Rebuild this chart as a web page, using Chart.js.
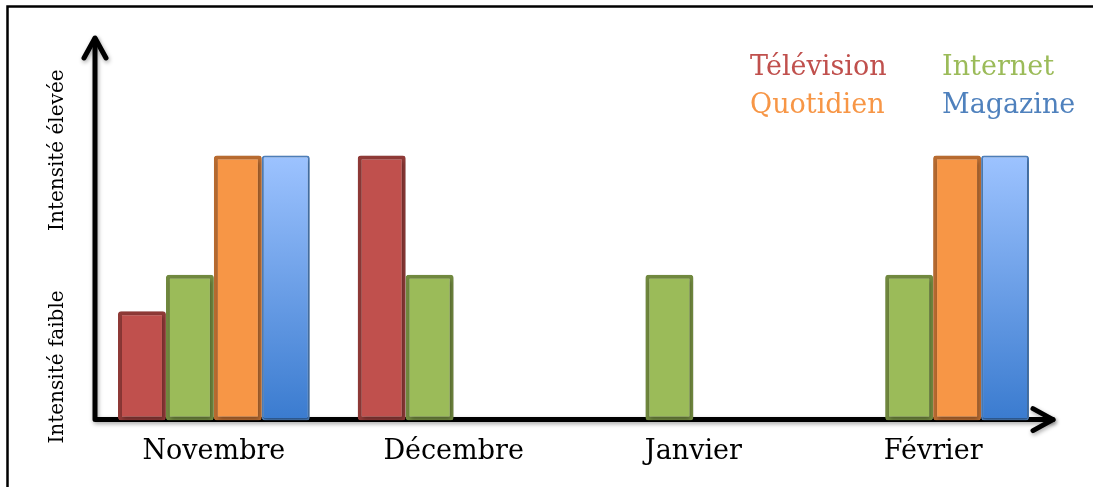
<!DOCTYPE html>
<html>
<head>
<meta charset="utf-8">
<script src="https://cdn.jsdelivr.net/npm/chart.js@4/dist/chart.umd.min.js"></script>
<style>
  html, body { margin: 0; padding: 0; background: #fff; }
  #wrap { width: 1101px; height: 487px; position: relative; }
</style>
</head>
<body>
<div id="wrap"><canvas id="chart"></canvas></div>
<script>
// data (arbitrary "intensité" units)
const months = ["Novembre", "Décembre", "Janvier", "Février"];
const television = [1.02, 2.47, null, null];
const internet = [1.36, 1.36, 1.36, 1.36];
const quotidien = [2.47, null, null, 2.47];
const magazine = [2.47, null, null, 2.47];
const yLabels = ["Intensité faible", "Intensité élevée"];

const serif = "'DejaVu Serif', serif";

function magazineFill(c) {
  const chart = c.chart;
  const area = chart.chartArea;
  if (!area || c.type !== "data") return "#6f9fe6";
  const top = chart.scales.y.getPixelForValue(c.parsed.y);
  if (!isFinite(top)) return "#6f9fe6";
  const g = chart.ctx.createLinearGradient(0, top, 0, area.bottom);
  g.addColorStop(0, "#9dc3ff");
  g.addColorStop(1, "#3a7bcf");
  return g;
}

function arrowHead(ctx, x, y, dx, dy) {
  // open chevron pointing in direction (dx, dy)
  const len = 20, half = 11;
  const px = -dy, py = dx;
  ctx.beginPath();
  ctx.moveTo(x - dx * len + px * half, y - dy * len + py * half);
  ctx.lineTo(x, y);
  ctx.lineTo(x - dx * len - px * half, y - dy * len - py * half);
  ctx.stroke();
}

const decor = {
  id: "decor",
  beforeDraw(chart) {
    const ctx = chart.ctx;
    ctx.save();
    ctx.strokeStyle = "#000";
    ctx.lineWidth = 2.5;
    ctx.beginPath();
    ctx.moveTo(7.5, 487);
    ctx.lineTo(7.5, 6.5);
    ctx.lineTo(1093, 6.5);
    ctx.stroke();
    ctx.restore();
  },
  beforeDatasetsDraw(chart) {
    const ctx = chart.ctx;
    const a = chart.chartArea;
    const x0 = a.left + 1, y0 = a.bottom - 1;
    ctx.save();
    ctx.shadowColor = "rgba(0,0,0,0.35)";
    ctx.shadowBlur = 4;
    ctx.shadowOffsetX = 1;
    ctx.shadowOffsetY = 2;
    ctx.strokeStyle = "#000";
    ctx.lineWidth = 5;
    ctx.lineCap = "round";
    ctx.lineJoin = "round";
    ctx.beginPath();
    ctx.moveTo(x0, 39);
    ctx.lineTo(x0, y0);
    ctx.lineTo(a.right, y0);
    ctx.stroke();
    arrowHead(ctx, x0, 38, 0, -1);
    arrowHead(ctx, a.right, y0, 1, 0);
    ctx.restore();

    // shadow under the bars
    ctx.save();
    ctx.shadowColor = "rgba(0,0,0,0.3)";
    ctx.shadowBlur = 4;
    ctx.shadowOffsetX = 1;
    ctx.shadowOffsetY = 2;
  },
  afterDatasetsDraw(chart) {
    const ctx = chart.ctx;
    ctx.restore();

    // y axis texts
    const y = chart.scales.y;
    ctx.save();
    ctx.fillStyle = "#000";
    ctx.font = "20px " + serif;
    ctx.textAlign = "center";
    ctx.textBaseline = "middle";
    [0.5, 2.52].forEach((v, i) => {
      ctx.save();
      ctx.translate(58, y.getPixelForValue(v));
      ctx.rotate(-Math.PI / 2);
      ctx.fillText(yLabels[i], 0, 0);
      ctx.restore();
    });
    ctx.restore();

    // legend as coloured words, two columns
    ctx.save();
    ctx.font = "27px " + serif;
    ctx.textAlign = "left";
    ctx.textBaseline = "middle";
    chart.data.datasets.forEach((ds, i) => {
      const col = i % 2, row = Math.floor(i / 2);
      ctx.fillStyle = ds.labelColor;
      ctx.fillText(ds.label, 750 + col * 192, 68 + row * 38);
    });
    ctx.restore();
  }
};

new Chart(document.getElementById("chart"), {
  type: "bar",
  data: {
    labels: months,
    datasets: [
      { label: "Télévision", data: television, backgroundColor: "#c0504d",
        borderColor: "#8f3a37", borderWidth: 4, labelColor: "#c0504d" },
      { label: "Internet", data: internet, backgroundColor: "#9bbb59",
        borderColor: "#71893f", borderWidth: 4, labelColor: "#9bbb59" },
      { label: "Quotidien", data: quotidien, backgroundColor: "#f79646",
        borderColor: "#b86b30", borderWidth: 4, labelColor: "#f79646" },
      { label: "Magazine", data: magazine, backgroundColor: magazineFill,
        borderColor: "#4f81bd", borderWidth: 2, labelColor: "#4f81bd" }
    ]
  },
  options: {
    responsive: true,
    maintainAspectRatio: false,
    animation: false,
    layout: { padding: { left: 94, right: 48, top: 45, bottom: 4 } },
    datasets: { bar: { categoryPercentage: 0.8, barPercentage: 1.0, borderRadius: 3, borderSkipped: false } },
    plugins: { legend: { display: false }, tooltip: { enabled: false } },
    scales: {
      x: {
        grid: { display: false, drawTicks: false },
        border: { display: false },
        ticks: { color: "#000", padding: 15, font: { family: serif, size: 27 } }
      },
      y: { display: false, min: 0, max: 3.5 }
    }
  },
  plugins: [decor]
});
</script>
</body>
</html>
